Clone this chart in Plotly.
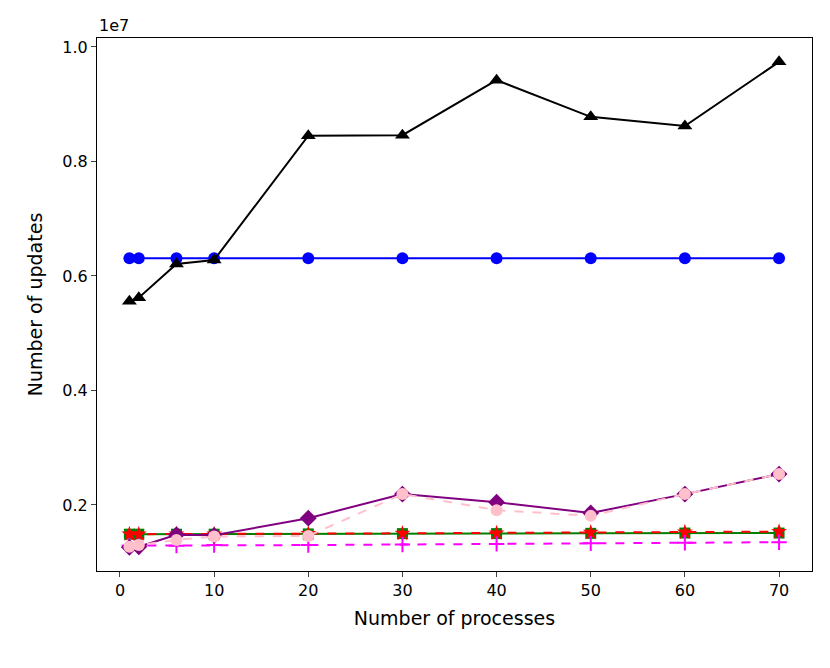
import plotly.graph_objects as go

procs = [1, 2, 6, 10, 20, 30, 40, 50, 60, 70]
blue_vals = [6.31e6] * 10
black_vals = [5.56e6, 5.62e6, 6.21e6, 6.28e6, 8.45e6, 8.46e6, 9.42e6, 8.78e6, 8.62e6, 9.74e6]
green_vals = [1.49e6, 1.49e6, 1.49e6, 1.49e6, 1.495e6, 1.50e6, 1.50e6, 1.505e6, 1.51e6, 1.51e6]
red_vals = [1.49e6, 1.49e6, 1.49e6, 1.49e6, 1.50e6, 1.505e6, 1.51e6, 1.52e6, 1.525e6, 1.535e6]
magenta_vals = [1.29e6, 1.29e6, 1.29e6, 1.30e6, 1.30e6, 1.31e6, 1.32e6, 1.33e6, 1.34e6, 1.35e6]
purple_vals = [1.26e6, 1.27e6, 1.48e6, 1.47e6, 1.77e6, 2.19e6, 2.05e6, 1.86e6, 2.19e6, 2.54e6]
pink_vals = [1.27e6, 1.30e6, 1.39e6, 1.45e6, 1.46e6, 2.19e6, 1.91e6, 1.81e6, 2.19e6, 2.54e6]

ytick_vals = [2e6, 4e6, 6e6, 8e6, 1e7]
ytick_text = ["0.2", "0.4", "0.6", "0.8", "1.0"]
xtick_vals = [0, 10, 20, 30, 40, 50, 60, 70]

fig = go.Figure()

def add(y, color, symbol, size, dash):
    fig.add_trace(go.Scatter(
        x=procs, y=y, mode="lines+markers",
        line=dict(color=color, width=2, dash=dash),
        marker=dict(color=color, symbol=symbol, size=size,
                    line=dict(width=0)),
        showlegend=False))

add(blue_vals, "blue", "circle", 12, "solid")
add(black_vals, "black", "triangle-up", 13, "solid")
add(green_vals, "green", "square", 11, "solid")
add(red_vals, "red", "star", 12, "dash")
add(magenta_vals, "magenta", "cross-thin", 11, "dash")
add(purple_vals, "purple", "diamond", 13, "solid")
add(pink_vals, "pink", "circle", 12, "dash")
fig.data[4].marker.line = dict(color="magenta", width=2)

fig.update_layout(
    width=814, height=652,
    margin=dict(l=89, r=10, t=30, b=89),
    plot_bgcolor="white", paper_bgcolor="white",
    font=dict(family="DejaVu Sans", size=16, color="black"),
    xaxis=dict(range=[-2.44, 73.5], tickvals=xtick_vals, ticks="outside",
               ticklen=5, tickwidth=1.2, showline=True, linecolor="black",
               linewidth=1.2, mirror=True, showgrid=False, zeroline=False,
               tickfont=dict(size=16),
               title=dict(text="Number of processes", standoff=12)),
    yaxis=dict(range=[0.847e6, 10.157e6], tickvals=ytick_vals, ticktext=ytick_text,
               ticks="outside", ticklen=5, tickwidth=1.2, showline=True,
               linecolor="black", linewidth=1.2, mirror=True, showgrid=False,
               tickfont=dict(size=16),
               zeroline=False, title=dict(text="Number of updates", standoff=14)),
    annotations=[dict(text="1e7", xref="paper", yref="paper", x=0, y=1,
                      xanchor="left", yanchor="bottom", showarrow=False,
                      yshift=1, font=dict(size=16))],
)

fig.write_html("out.html")
